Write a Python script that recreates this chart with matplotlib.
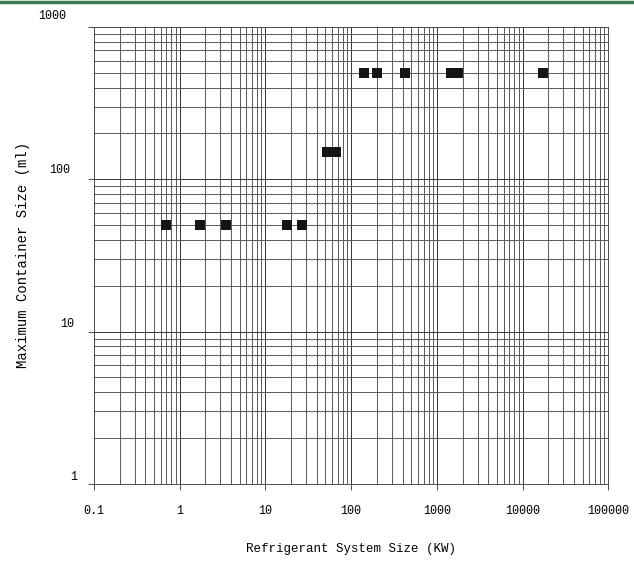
import numpy as np
import matplotlib
matplotlib.use("Agg")
import matplotlib.pyplot as plt
from matplotlib.lines import Line2D
from matplotlib.transforms import ScaledTranslation

# data: system size (kW) vs max container size (ml)
system_kw = [0.7, 1.75, 3.5, 18, 27, 53, 67, 143, 202, 430, 1450, 1750, 17500]
container_ml = [50, 50, 50, 50, 50, 150, 150, 500, 500, 500, 500, 500, 500]

x_ticks = [0.1, 1, 10, 100, 1000, 10000, 100000]
x_labels = ["0.1", "1", "10", "100", "1000", "10000", "100000"]
y_ticks = [1, 10, 100, 1000]
y_labels = ["1", "10", "100", "1000"]

plt.rcParams['font.family'] = ['Liberation Mono', 'DejaVu Sans Mono']

fig = plt.figure(figsize=(6.34, 5.65), dpi=100)
ax = fig.add_axes([0.148, 0.1434, 0.8115, 0.809])

ax.set_xscale('log')
ax.set_yscale('log')
ax.set_xlim(0.1, 100000)
ax.set_ylim(1, 1000)

# graph-paper grid
ax.grid(True, which='major', color='0.2', lw=0.7)
ax.grid(True, which='minor', color='0.35', lw=0.7)
ax.set_axisbelow(True)

ax.plot(system_kw, container_ml, 's', color='#151515', markersize=6.6,
        markeredgewidth=0, zorder=3)

ax.set_xticks(x_ticks)
ax.set_xticklabels(x_labels)
ax.set_yticks(y_ticks)
ax.set_yticklabels(y_labels)
ax.tick_params(which='major', length=4, width=0.7, color='0.3',
               labelsize=8.5)
ax.tick_params(axis='x', pad=11)
ax.tick_params(axis='y', pad=11.5)
ax.tick_params(which='minor', length=0)

# y labels in the scan sit above their gridlines and are a bit ragged
shift_px = {"1": (5, 8), "10": (2, 9), "100": (-2, 11), "1000": (-6, 12)}
for lab in ax.get_yticklabels():
    dx, dy = shift_px[lab.get_text()]
    lab.set_transform(lab.get_transform() +
                      ScaledTranslation(dx / 100, dy / 100, fig.dpi_scale_trans))

for s in ax.spines.values():
    s.set_color('0.3')
    s.set_linewidth(0.7)

ax.set_xlabel('Refrigerant System Size (KW)', fontsize=9, va='center')
ax.set_ylabel('Maximum Container Size (ml)', fontsize=10, va='center')
ax.xaxis.set_label_coords(0.5, -0.142)
ax.yaxis.set_label_coords(-0.137, 0.5)

# green rule along the top edge
fig.add_artist(Line2D([0, 1], [0.9965, 0.9965], color='#3a7d52', lw=2.5,
                      transform=fig.transFigure))

fig.savefig('out.png', dpi=100, facecolor='white')
